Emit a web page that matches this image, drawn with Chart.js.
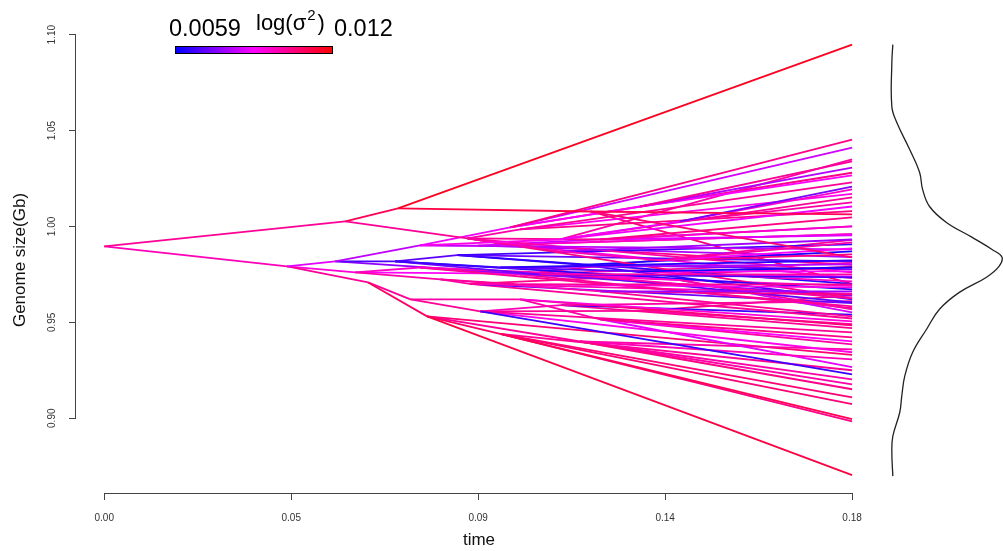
<!DOCTYPE html>
<html>
<head>
<meta charset="utf-8">
<script src="https://cdn.jsdelivr.net/npm/chart.js@4.4.0/dist/chart.umd.min.js"></script>
<style>
  html, body { margin: 0; padding: 0; background: #fff; }
  #wrap { position: relative; width: 1003px; height: 551px; }
  #main, #dens { position: absolute; top: 0; }
  #main { left: 0; }
  #dens { left: 870px; }
</style>
</head>
<body>
<div id="wrap">
  <canvas id="main" width="1003" height="551"></canvas>
  <canvas id="dens" width="133" height="551"></canvas>
</div>
<script>
// phenogram nodes: time, genome size (Gb), parent node, rate on the branch leading to the node
const nodeTime = [
  0, 0.058, 0.044, 0.0707, 0.0874, 0.18, 0.117, 0.18, 0.18, 0.0556,
  0.0635, 0.0604, 0.076, 0.070, 0.0977, 0.1097, 0.18, 0.18, 0.129, 0.18,
  0.18, 0.18, 0.1386, 0.18, 0.18, 0.18, 0.18, 0.18, 0.1097, 0.1194,
  0.18, 0.18, 0.18, 0.1338, 0.18, 0.18, 0.18, 0.18, 0.0953, 0.1049,
  0.18, 0.18, 0.129, 0.18, 0.18, 0.18, 0.18, 0.18, 0.0809, 0.076,
  0.1001, 0.1194, 0.18, 0.18, 0.18, 0.18, 0.1049, 0.18, 0.18, 0.18,
  0.1386, 0.18, 0.18, 0.18, 0.0777, 0.18, 0.0737, 0.0905, 0.1001, 0.18,
  0.18, 0.18, 0.18, 0.1194, 0.18, 0.18, 0.18, 0.0953, 0.18, 0.18,
  0.18, 0.1145, 0.18, 0.18, 0.18, 0.18, 0.18, 0.18, 0.18, 0.18,
  0.18, 0.18, 0.18, 0.18, 0.18, 0.18, 0.085, 0.18, 0.18, 0.18,
  0.115, 0.18, 0.18, 0.18, 0.090, 0.18, 0.18, 0.18, 0.100, 0.18,
  0.18, 0.18, 0.18, 0.088, 0.18, 0.18, 0.18, 0.18, 0.110, 0.18,
  0.18, 0.18, 0.1001, 0.18, 0.18, 0.18, 0.18, 0.18, 0.18, 0.097,
  0.18, 0.18, 0.18, 0.130, 0.18, 0.18, 0.18, 0.18
];
const nodeSize = [
  0.9896, 1.0026, 0.9792, 1.0094, 0.9938, 1.0948, 1.0078, 1.0063, 0.9839, 0.9818,
  0.9708, 0.9760, 0.9901, 0.9818, 0.9995, 0.9932, 1.0453, 1.0411, 1.0104, 1.0339,
  1.0307, 1.0266, 1.0026, 1.0208, 1.0193, 1.0151, 1.0125, 1.0104, 0.9870, 0.9932,
  1.0047, 1.0000, 0.9953, 0.9823, 0.9932, 0.9917, 0.9885, 0.9854, 0.9786, 0.9750,
  0.9823, 0.9802, 0.9766, 0.9786, 0.9766, 0.9750, 0.9734, 0.9714, 0.9724, 0.9786,
  0.9698, 0.9661, 0.9698, 0.9682, 0.9661, 0.9646, 0.9760, 0.9625, 0.9604, 0.9583,
  0.9720, 0.9568, 0.9552, 0.9531, 0.9531, 0.8703, 0.9620, 0.9557, 0.9620, 0.9505,
  0.9484, 0.9229, 0.9448, 0.9516, 0.9422, 0.9401, 0.9385, 0.9440, 0.8995, 0.8984,
  0.9073, 0.9400, 0.9151, 0.9203, 0.9307, 0.9344, 0.9266, 0.9359, 0.9109, 0.9177,
  0.9672, 0.9880, 0.9760, 0.9625, 0.9640, 0.9740, 0.9850, 0.9906, 0.9818, 0.9700,
  0.9800, 0.9870, 0.9776, 0.9620, 0.9900, 1.0000, 0.9960, 0.9840, 0.9750, 0.9930,
  0.9810, 0.9690, 0.9574, 0.9700, 0.9790, 0.9650, 0.9600, 0.9520, 0.9590, 0.9610,
  0.9540, 0.9470, 0.9985, 1.0230, 1.0170, 1.0080, 1.0350, 1.0280, 0.9700, 0.9905,
  0.9960, 0.9800, 0.9730, 0.9560, 0.9640, 0.9490, 0.9330, 0.9250
];
const nodeParent = [
  -1, 0, 0, 1, 1, 3, 3, 6, 6, 2,
  2, 2, 9, 9, 12, 12, 14, 14, 14, 18,
  18, 18, 15, 22, 22, 15, 22, 15, 4, 4,
  29, 29, 29, 28, 28, 33, 33, 33, 13, 13,
  38, 38, 38, 42, 42, 39, 39, 42, 11, 11,
  48, 48, 50, 50, 51, 51, 49, 56, 56, 49,
  56, 60, 60, 51, 10, 64, 10, 66, 66, 68,
  68, 67, 67, 68, 73, 73, 73, 64, 77, 77,
  77, 64, 81, 81, 81, 67, 73, 81, 77, 81,
  13, 12, 4, 4, 9, 11, 13, 96, 96, 96,
  96, 100, 100, 100, 12, 104, 104, 104, 49, 108,
  108, 108, 108, 48, 113, 113, 113, 113, 67, 118,
  118, 118, 4, 122, 122, 122, 15, 14, 6, 4,
  129, 129, 129, 67, 133, 133, 64, 77
];
const branchRate = [
  null, 0.0102, 0.0098, 0.0110, 0.0102, 0.0116, 0.0112, 0.0110, 0.0106, 0.0086,
  0.0102, 0.0094, 0.0082, 0.0068, 0.0088, 0.0092, 0.0104, 0.0084, 0.0090, 0.0102,
  0.0080, 0.0090, 0.0088, 0.0074, 0.0096, 0.0102, 0.0100, 0.0088, 0.0100, 0.0102,
  0.0104, 0.0096, 0.0086, 0.0098, 0.0078, 0.0100, 0.0090, 0.0104, 0.0066, 0.0072,
  0.0064, 0.0080, 0.0070, 0.0062, 0.0090, 0.0100, 0.0068, 0.0096, 0.0100, 0.0096,
  0.0102, 0.0098, 0.0102, 0.0092, 0.0078, 0.0104, 0.0098, 0.0100, 0.0070, 0.0102,
  0.0094, 0.0100, 0.0084, 0.0102, 0.0108, 0.0112, 0.0102, 0.0102, 0.0100, 0.0094,
  0.0106, 0.0066, 0.0102, 0.0100, 0.0104, 0.0090, 0.0100, 0.0108, 0.0110, 0.0104,
  0.0106, 0.0102, 0.0104, 0.0100, 0.0098, 0.0092, 0.0086, 0.0100, 0.0106, 0.0100,
  0.0064, 0.0082, 0.0100, 0.0104, 0.0076, 0.0090, 0.0070, 0.0066, 0.0072, 0.0064,
  0.0068, 0.0062, 0.0074, 0.0066, 0.0090, 0.0084, 0.0096, 0.0080, 0.0100, 0.0102,
  0.0100, 0.0096, 0.0102, 0.0100, 0.0104, 0.0098, 0.0072, 0.0102, 0.0098, 0.0100,
  0.0066, 0.0102, 0.0100, 0.0102, 0.0092, 0.0104, 0.0100, 0.0104, 0.0106, 0.0102,
  0.0100, 0.0104, 0.0094, 0.0102, 0.0104, 0.0100, 0.0106, 0.0102
];

// axis ticks
const timeTicks = [0, 0.045, 0.09, 0.135, 0.18];
const timeLabels = ['0.00', '0.05', '0.09', '0.14', '0.18'];
const sizeTicks = [0.90, 0.95, 1.00, 1.05, 1.10];
const sizeLabels = ['0.90', '0.95', '1.00', '1.05', '1.10'];

// colour key range
const rateMin = 0.0059;
const rateMax = 0.012;

// density of tip genome sizes (side panel)
const densSize = [
  1.0948, 1.0854, 1.0625, 1.0542, 1.0401, 1.0281, 1.0193, 1.0104, 1.0021, 0.9943,
  0.9880, 0.9839, 0.9792, 0.9734, 0.9656, 0.9568, 0.9464, 0.9344, 0.9219, 0.9115,
  0.9031, 0.8906, 0.8823, 0.8698
];
const densValue = [
  2.3, 2.2, 2.2, 2.7, 4.0, 5.0, 5.3, 6.0, 7.7, 10.3,
  12.3, 13.3, 13.0, 11.7, 9.0, 7.0, 5.7, 4.3, 3.5, 3.2,
  3.0, 2.3, 2.2, 2.3
];

const FONT = '"Liberation Sans", Arial, Helvetica, sans-serif';
Chart.defaults.font.family = FONT;

// blue -> magenta -> red
function rateColour(r) {
  const p = Math.min(1, Math.max(0, (r - rateMin) / (rateMax - rateMin)));
  let red, blue;
  if (p < 0.5) { red = Math.round(510 * p); blue = 255; }
  else { red = 255; blue = Math.round(510 * (1 - p)); }
  return 'rgb(' + red + ',0,' + blue + ')';
}

const branches = [];
for (let i = 1; i < nodeTime.length; i++) {
  const p = nodeParent[i];
  branches.push({
    data: [{ x: nodeTime[p], y: nodeSize[p] }, { x: nodeTime[i], y: nodeSize[i] }],
    borderColor: rateColour(branchRate[i]),
    borderWidth: 1.8,
    pointRadius: 0,
    fill: false,
    tension: 0
  });
}

// R-style axis lines, rotated y labels and the colour key
const extras = {
  id: 'extras',
  afterDraw(chart) {
    const { ctx, chartArea, scales: { x, y } } = chart;
    ctx.save();
    ctx.strokeStyle = '#444';
    ctx.lineWidth = 1;
    ctx.beginPath();
    const xb = Math.round(chartArea.bottom) + 0.5;
    ctx.moveTo(x.getPixelForValue(timeTicks[0]), xb);
    ctx.lineTo(x.getPixelForValue(timeTicks[timeTicks.length - 1]), xb);
    const yl = Math.round(chartArea.left) - 0.5;
    ctx.moveTo(yl, y.getPixelForValue(sizeTicks[0]));
    ctx.lineTo(yl, y.getPixelForValue(sizeTicks[sizeTicks.length - 1]));
    ctx.stroke();

    ctx.fillStyle = '#333';
    ctx.font = '10px ' + FONT;
    ctx.textAlign = 'center';
    ctx.textBaseline = 'middle';
    sizeTicks.forEach((v, i) => {
      ctx.save();
      ctx.translate(52, y.getPixelForValue(v));
      ctx.rotate(-Math.PI / 2);
      ctx.fillText(sizeLabels[i], 0, 0);
      ctx.restore();
    });

    // colour key
    const kx = 175, ky = 46, kw = 158, kh = 8;
    const g = ctx.createLinearGradient(kx, 0, kx + kw, 0);
    g.addColorStop(0, rateColour(rateMin));
    g.addColorStop(0.5, rateColour((rateMin + rateMax) / 2));
    g.addColorStop(1, rateColour(rateMax));
    ctx.fillStyle = g;
    ctx.fillRect(kx, ky, kw, kh);
    ctx.strokeStyle = '#000';
    ctx.strokeRect(kx + 0.5, ky + 0.5, kw - 1, kh - 1);

    ctx.fillStyle = '#000';
    ctx.textAlign = 'left';
    ctx.textBaseline = 'alphabetic';
    ctx.font = '23.5px ' + FONT;
    ctx.fillText(String(rateMin), 169, 36);
    ctx.fillText(String(rateMax), 334, 36);
    ctx.font = '22px ' + FONT;
    let tx = 256;
    ctx.fillText('log(\u03c3', tx, 30);
    tx += ctx.measureText('log(\u03c3').width + 1;
    ctx.font = '15px ' + FONT;
    ctx.fillText('2', tx, 20);
    tx += ctx.measureText('2').width + 2;
    ctx.font = '22px ' + FONT;
    ctx.fillText(')', tx, 30);
    ctx.restore();
  }
};

new Chart(document.getElementById('main'), {
  type: 'line',
  data: { datasets: branches },
  plugins: [extras],
  options: {
    responsive: false,
    animation: false,
    events: [],
    layout: { padding: { top: 27, right: 121, bottom: 0, left: 0 }, autoPadding: false },
    plugins: { legend: { display: false }, tooltip: { enabled: false } },
    scales: {
      x: {
        type: 'linear',
        min: -0.0068,
        max: 0.1872,
        afterBuildTicks: s => { s.ticks = timeTicks.map(v => ({ value: v })); },
        afterFit: s => { s.height = 58; },
        border: { display: false },
        grid: { drawOnChartArea: false, drawTicks: true, tickLength: 7, color: '#444' },
        ticks: {
          autoSkip: false, maxRotation: 0, padding: 12, color: '#333',
          font: { size: 10 },
          callback: (v, i) => timeLabels[i]
        },
        title: { display: true, text: 'time', color: '#111', font: { size: 17 }, padding: { top: 0, bottom: 0 } }
      },
      y: {
        type: 'linear',
        min: 0.861,
        max: 1.104,
        afterBuildTicks: s => { s.ticks = sizeTicks.map(v => ({ value: v })); },
        afterFit: s => { s.width = 76; },
        border: { display: false },
        grid: { drawOnChartArea: false, drawTicks: true, tickLength: 7, color: '#444' },
        ticks: { display: false },
        title: { display: true, text: 'Genome size(Gb)', color: '#111', font: { size: 17 }, padding: { top: 10, bottom: 0 } }
      }
    }
  }
});

new Chart(document.getElementById('dens'), {
  type: 'line',
  data: {
    datasets: [{
      data: densSize.map((v, i) => ({ x: densValue[i], y: v })),
      borderColor: '#222',
      borderWidth: 1.3,
      pointRadius: 0,
      fill: false,
      tension: 0.4
    }]
  },
  options: {
    responsive: false,
    animation: false,
    events: [],
    layout: { padding: { top: 27, right: 0, bottom: 58, left: 0 }, autoPadding: false },
    plugins: { legend: { display: false }, tooltip: { enabled: false } },
    scales: {
      x: { type: 'linear', min: 0, max: 13.4, display: false },
      y: { type: 'linear', min: 0.861, max: 1.104, display: false }
    }
  }
});
</script>
</body>
</html>
